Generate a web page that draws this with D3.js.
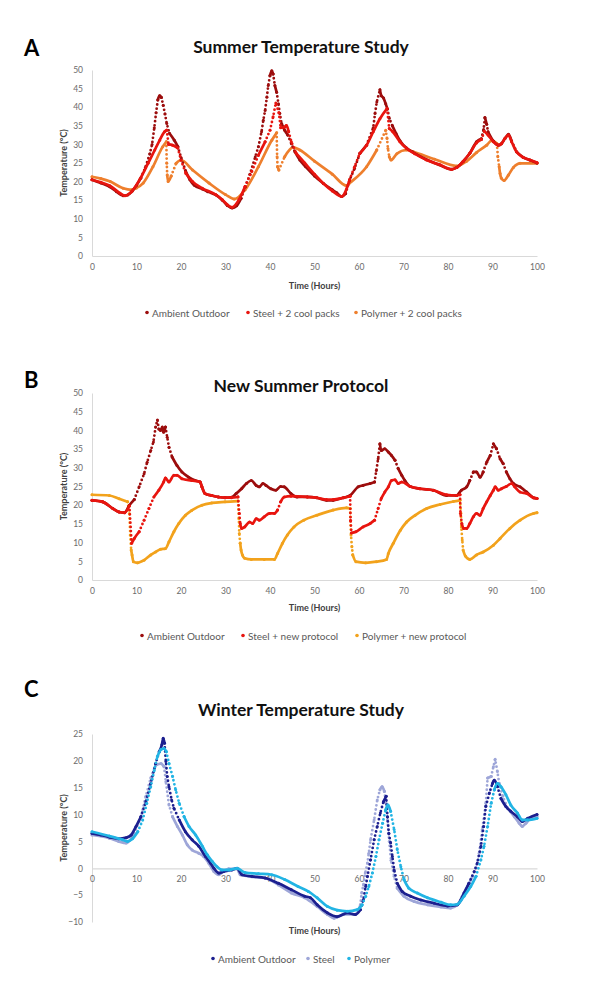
<!DOCTYPE html>
<html>
<head>
<meta charset="utf-8">
<script src="https://cdn.jsdelivr.net/npm/d3@7/dist/d3.min.js"></script>
<style>
  body { margin: 0; background: #fff; }
  text { font-family: Lato, "Open Sans", sans-serif; }
</style>
</head>
<body>
<svg id="chart" width="600" height="1001"></svg>
<script>
// ---- data: [hour, temperature] ----
const hourTicks = [0, 10, 20, 30, 40, 50, 60, 70, 80, 90, 100]
const summerTicks = [0, 5, 10, 15, 20, 25, 30, 35, 40, 45, 50]
const winterTicks = [-10, -5, 0, 5, 10, 15, 20, 25]

// A - summer study
const summerAmbient = [[0,20.5],[2,19.6],[4,18.6],[5.5,17.3],[7,16.2],[8,16.4],[9,17.4],[10,19],[11,21],[12,23.8],[13,27.5],[13.5,30],[14,34.5],[14.4,38.5],[14.8,42],[15.2,43.1],[15.6,42.6],[16,40.5],[16.4,38.2],[16.8,35.6],[17.4,33],[18.5,31.1],[19.3,29.4],[20,26.5],[21,23],[22,20.5],[23,19],[24.8,18],[26,17.3],[28,16.3],[29.3,15],[30.4,13.6],[31.5,12.9],[32.5,13.5],[33.5,15.5],[34.4,18.5],[35.5,22],[36.7,26.7],[37.4,29.4],[38.1,33.4],[38.5,36.5],[38.9,39.1],[39.3,42.7],[39.6,45.8],[40,48.5],[40.4,49.8],[40.7,48.9],[41.1,45.8],[41.5,44],[41.9,40.9],[42.2,38.3],[42.6,35.6],[43.3,33.8],[44,32.5],[44.8,30.2],[45.6,28],[46.7,25.8],[48,24],[50,21.5],[52,19.5],[54,17.8],[55,17],[56.1,16],[57,16.8],[57.9,20.5],[59,23.5],[60.2,27.6],[61.7,29.8],[63.2,34.5],[63.6,38.3],[64,41.4],[64.7,44.7],[65,43.1],[65.5,42.5],[66,40.9],[66.4,39.5],[66.8,37],[67.5,35],[68.3,33],[69.2,31],[70.7,29],[72,28],[75,26],[78,24.5],[80.8,23.3],[82,23.8],[83.4,25.4],[84.9,27.6],[86.4,30.7],[87.5,31.5],[88,34],[88.3,37.2],[88.7,35.4],[89,33.4],[90.2,30.9],[91.3,29.8],[92,30.2],[92.8,31.6],[93.6,32.7],[94.3,30.9],[95.4,28],[96.9,26.5],[98.4,25.8],[100,25]]
const summerSteel = [[0,20.5],[2,19.8],[4,18.9],[6.3,16.9],[7.4,16.2],[8.9,17.3],[10.7,20.5],[12.6,24.9],[14.1,28.5],[15.2,31.1],[16.3,33.4],[16.8,33.8],[17.2,30],[18.1,29.8],[19.3,29],[20,25.8],[21.1,22.2],[22.6,20],[24.8,18.2],[27.8,16.5],[29.3,15.1],[30.4,13.8],[31.5,13.1],[33,15.1],[34.4,18.7],[35.9,22.7],[37.4,27.1],[38.9,30.7],[40,33.8],[40.7,37.4],[41.3,41.1],[42,38.5],[42.4,34.5],[43.3,34.7],[43.7,35.1],[44.2,33.4],[44.8,30.7],[45.9,27.6],[47.8,25],[50,22],[52,19.5],[54,17.5],[56.1,16],[57.9,20.5],[59,24],[60.2,27.6],[61.7,29.8],[63.2,33.4],[64.7,36.9],[66.3,39.6],[66.8,34.3],[67.6,33.4],[69.2,30.7],[70.7,28.9],[72.5,27.5],[75.2,25.8],[78.2,24.5],[80.8,23.3],[82,23.8],[83.4,25.4],[84.9,27.6],[86.4,30.4],[87.5,31.3],[88.2,33.5],[89,32.5],[90.2,30.7],[91.3,29.8],[92,30.2],[92.8,31.6],[93.6,32.5],[94.3,30.7],[95.4,28],[96.9,26.5],[98.4,25.8],[100,25.1]]
const summerPolymer = [[0,21.3],[2,20.8],[4.1,20],[7,18.2],[8.9,17.8],[10,18.3],[11.5,19.6],[13.7,24],[15.9,29.4],[16.7,30.7],[16.8,24.9],[16.9,21.8],[17.1,20],[17.8,21.5],[18.9,24.9],[20,25.8],[22.6,23.1],[26.3,19.6],[30,16.5],[32,15.3],[34.4,17.8],[37.4,24],[40.4,31.1],[41.5,33.1],[41.6,26.7],[41.7,24],[42,23.1],[43.3,26.7],[45.2,29.2],[46.7,28.5],[50,25.5],[54,22],[57.2,18.9],[57.9,19.6],[61.7,24],[64,28.5],[66,33.8],[66.3,31.6],[66.5,28.9],[66.8,26.7],[67.2,25.8],[68.5,27.5],[70.7,28.5],[72.2,28],[77,26],[82,24.2],[84.1,25.4],[86.4,27.8],[88.7,29.8],[89.8,31],[91,30.2],[91.2,26.7],[91.5,24],[91.7,22.2],[92,20.9],[92.6,20.3],[93.6,21.8],[94.7,23.8],[96.2,24.9],[100,24.9]]

// B - new summer protocol
const protocolAmbient = [[0,21.3],[2.4,20.9],[4.7,19.1],[6.1,18.2],[7.3,18],[8.4,20],[9.5,21.5],[10.6,24.9],[11.7,28.4],[12.4,31.5],[13.2,34.6],[13.8,36.9],[14.3,40.9],[14.7,42.8],[15,40.4],[15.4,40],[15.8,40.9],[16.1,39.5],[16.5,40.9],[16.9,38.2],[17.3,35.5],[18,32.9],[19.1,30.6],[20.2,28.9],[21.7,27.5],[23.2,26.6],[24.3,26.2],[24.7,24.9],[25.4,23.1],[26.9,22.6],[28.4,22.2],[29.9,22],[31.3,22.1],[32.4,23.1],[33.6,24.4],[34.7,25.8],[35.8,26.6],[36.9,25.3],[37.6,24.9],[38.4,25.8],[39.1,25.3],[40.2,24.4],[41.3,24],[42.4,25],[43.2,24.9],[44.7,23.1],[46.1,22.2],[48.4,22.2],[50.5,22],[52.7,21.3],[54.2,21.3],[56.5,22],[58,22.6],[59.8,24.9],[60.9,25.3],[62.5,25.8],[63.5,26.2],[63.9,29.3],[64.3,32.4],[64.7,36.4],[65,34.6],[65.8,35.1],[66.6,34.2],[67.3,33.3],[68.1,32],[68.8,29.8],[69.6,28],[70.3,26.6],[71.5,25],[73.7,24.4],[76.7,24],[79.7,22.6],[81.9,22.6],[83,24],[84.2,24.9],[84.9,26.6],[85.7,28.9],[86.4,28.9],[87.2,27.5],[87.9,28.9],[88.7,31.5],[89.5,33.3],[90.2,36.4],[90.9,35.1],[91.7,32.4],[92.4,31.1],[93.1,28.9],[93.9,27.1],[94.7,25.8],[96.2,24.9],[97.7,23.5],[99.2,22],[100,21.8]]
const protocolSteel = [[0,21.3],[2.4,20.9],[4.7,19.1],[6.1,18.2],[7.3,18],[8.4,19.8],[8.9,9.8],[9.5,11.1],[10.6,12.9],[11.7,16],[12.8,19.1],[13.9,22.2],[15,24],[16.1,26.2],[16.5,27.3],[17.3,26.2],[18.4,28],[19.1,28],[20.2,27.1],[22.4,26.6],[24.3,26.2],[24.7,24.9],[25.4,23.1],[26.9,22.6],[28.4,22.2],[29.9,22],[31.3,22],[32.8,22.2],[33.1,17.8],[33.3,15.1],[33.6,13.8],[34.3,14.2],[35.4,15.5],[36.1,15.1],[36.9,16.4],[37.6,16],[38.7,16.9],[39.9,17.8],[41,17.8],[41.7,18.7],[42.4,20.9],[43.2,22.2],[44.7,22.4],[48.4,22.2],[50.5,22],[52.7,21.5],[54.2,21.5],[56.5,22],[58,22.4],[58.1,16],[58.3,12.6],[59.3,12.9],[60.9,14.2],[62.5,15.1],[63.5,16],[64.3,19.1],[65,21.8],[65.8,23.5],[66.6,24.9],[67.3,26.6],[68.1,26.8],[68.8,25.8],[69.6,26.2],[71.5,25],[73.7,24.4],[76.7,24],[79.7,22.8],[81.9,22.6],[82.7,22.8],[82.8,17.8],[83.1,15.1],[83.5,13.8],[84.2,13.8],[84.9,15.1],[85.7,16.9],[86.4,17.8],[87.2,17.3],[87.9,19.1],[88.7,20.9],[89.5,22.6],[90.2,24],[90.6,24.9],[91.3,24],[92,24.4],[93.1,25],[94.3,25.8],[95,24.9],[96.2,23.5],[97.7,23.1],[99.2,22],[100,21.8]]
const protocolPolymer = [[0,22.8],[3.9,22.6],[6.1,21.7],[8,20.9],[8.4,17.8],[8.6,12],[8.8,8],[9,6.7],[9.3,4.9],[10.2,4.6],[11.7,5.3],[13.2,6.7],[14.3,7.5],[15.4,8.2],[16.5,8.4],[17.3,10.2],[18.4,12.9],[19.5,15.1],[21,17.3],[22.4,18.6],[24.7,20],[26.9,20.6],[29.9,20.9],[32.8,21.1],[33,16.4],[33.1,12.4],[33.3,9.8],[33.5,8],[33.8,6.7],[34.3,5.8],[35.8,5.5],[38.7,5.5],[41,5.5],[41.7,7.1],[42.8,9.8],[43.9,12],[45.4,14.2],[47.6,16],[50.5,17.3],[54.2,18.7],[57.2,19.3],[58,19.1],[58.2,12],[58.4,8.9],[58.6,6.7],[59.3,4.9],[61.5,4.6],[63.9,4.9],[66.2,5.5],[66.6,7.1],[67.7,9.8],[69.3,13.3],[70.7,15.5],[72.6,17.3],[75.2,19.1],[78.2,20.2],[81.2,21],[82.7,21.3],[82.9,17.8],[83,14.2],[83.2,10.7],[83.4,8],[83.9,6.4],[84.9,5.5],[86.4,6.7],[87.9,7.5],[90.2,9.3],[91.7,11.1],[93.9,13.8],[96.2,16],[99.2,17.8],[100,18]]

// C - winter study
const winterAmbient = [[0,6.5],[2,6.2],[4,5.8],[6,5.5],[7.7,5.7],[8.8,6.2],[9.9,7.8],[11,9.6],[12.1,12.4],[13.2,15.8],[14.3,19.5],[15.1,21.7],[15.7,23],[16,24.2],[16.3,23.3],[16.6,19.9],[16.9,17.1],[17.3,15.2],[17.9,12.7],[18.4,11.2],[19.6,9],[21,6.8],[22.5,5.3],[24,4.1],[25.5,2.2],[26.6,1],[27.4,0],[28.5,-0.9],[29.6,-0.6],[31.4,-0.3],[32.6,0],[33.7,-1.2],[35.9,-1.5],[38.9,-1.8],[41.9,-2.8],[44.8,-4],[47.8,-5.2],[49.1,-5.5],[50.6,-6.8],[52.9,-8.3],[55.1,-9],[57.4,-8.3],[59.2,-8.6],[60.3,-7.7],[61,-5.8],[61.5,-3.4],[61.9,-1.5],[62.6,1.6],[63.4,5.3],[64.1,7.8],[64.8,10.3],[65.5,12.4],[66.1,13.4],[66.4,9.6],[66.7,6.5],[67.1,4.7],[67.5,2.2],[67.9,-0.3],[68.6,-2.8],[69.7,-4.3],[71.6,-5.2],[73.9,-5.9],[76.9,-6.5],[79.9,-7],[82.1,-6.8],[82.9,-5.9],[83.6,-4.6],[84.7,-2.8],[85.9,-0.6],[86.6,1],[87.4,4.1],[88,7.8],[88.5,11.5],[89.3,14],[90,15.8],[90.4,16.4],[91.1,15.2],[91.9,13],[93,11.5],[94.1,10.6],[95.6,9.6],[96.7,8.7],[97.9,9.3],[100,10]]
const winterSteel = [[0,6.2],[3.9,5.6],[6,5],[7.7,4.7],[9.5,6.5],[11,9.6],[12.1,13.4],[13.2,16.8],[14.3,19.2],[15.5,19.5],[16.2,18.9],[16.6,16.1],[17.3,11.8],[18.1,9.6],[19.2,7.8],[20.3,6.2],[21.4,4.4],[22.5,3.4],[24,2.8],[25.1,2.2],[26.2,1],[27.4,-0.6],[28.5,-1.2],[29.2,-0.8],[30.7,-0.1],[32.6,-0.1],[33.3,-1.2],[35.2,-1.5],[38.9,-1.8],[41.9,-3.1],[44.8,-4.6],[47.8,-5.5],[50.6,-7.1],[52.9,-8.6],[54.4,-9.3],[56.6,-8.6],[58.9,-8.6],[59.9,-8],[60.3,-6.8],[60.6,-4.6],[61,-3.1],[61.4,-0.9],[61.9,1],[62.2,2.8],[62.6,5.3],[63.4,9],[64.1,12.7],[64.7,14.6],[65.2,15.2],[65.7,14.3],[66.1,12.1],[66.4,9],[66.8,5],[67.2,1.5],[67.9,-1.5],[68.6,-3.7],[70.1,-5.2],[72.4,-6.2],[75.4,-6.8],[78.4,-7.2],[80.6,-7.4],[82.1,-6.8],[83.2,-5.2],[84.4,-3.4],[85.5,-1.5],[86.3,0.1],[87,2.8],[87.7,7.2],[88.5,12.1],[88.9,16.8],[89.7,17.1],[90.2,18.9],[90.6,20.3],[91.1,18],[91.5,15.8],[92.3,13.4],[93.4,11.2],[94.9,9.6],[96,8.4],[96.7,7.8],[97.5,8.4],[98.6,9.3],[100,9.6]]
const winterPolymer = [[0,6.8],[3.9,6],[6.9,5.3],[8,5],[9.1,5.5],[10.3,6.8],[11.4,9],[12.3,12.1],[13.2,15.2],[14,18.3],[14.7,20.8],[15.5,22.1],[16.2,22.3],[16.7,21.7],[17.3,19.5],[18.1,17.1],[18.8,14.6],[19.6,12.1],[20.7,9.6],[21.8,7.8],[23.3,6.2],[24.8,4.1],[25.9,2.5],[27,1.3],[28.1,0.3],[29.2,-0.3],[30.7,-0.3],[32.6,0],[34.4,-0.8],[37.4,-1],[40.4,-1.2],[43.3,-2.1],[46.3,-3.4],[48.6,-4.3],[50.6,-5.5],[52.9,-7.1],[55.1,-7.8],[57.4,-8],[59.6,-7.7],[60.7,-6.8],[61.5,-5.2],[62.2,-3.4],[63,-0.9],[63.8,2.2],[64.5,5.3],[65.3,8.4],[66,10.9],[66.5,11.8],[67.1,10.6],[67.9,7.2],[68.6,3.5],[69.4,0.3],[70.1,-2.1],[71.2,-3.7],[73.1,-4.6],[75.4,-5.5],[78.4,-6.3],[80.6,-6.8],[82.1,-6.7],[83.6,-5.2],[85.1,-3.4],[86.3,-1.5],[87.4,1.6],[88.1,4.1],[88.9,7.8],[89.7,12.1],[90.4,14.6],[91.1,15.8],[91.9,15.2],[93,13.7],[94.1,11.8],[95.6,10.3],[96.7,9],[97.9,9],[100,9.3]]

const summerNames = ['Ambient Outdoor', 'Steel + 2 cool packs', 'Polymer + 2 cool packs']
const protocolNames = ['Ambient Outdoor', 'Steel + new protocol', 'Polymer + new protocol']
const winterNames = ['Ambient Outdoor', 'Steel', 'Polymer']

// ---- layout of the three panels ----
const panels = [
  { letter: 'A', letterY: 56, title: 'Summer Temperature Study', titleY: 53,
    top: 70, bottom: 256, yDomain: [0, 50], yTicks: summerTicks, axisAt: 0,
    xLabelY: 270, xTitleY: 289, legendY: 313, legendX: [147, 248, 356],
    names: summerNames, series: [summerAmbient, summerSteel, summerPolymer],
    colors: ['#9c0d0d', '#e8150f', '#ee7f2d'], order: [2, 0, 1] },
  { letter: 'B', letterY: 388, title: 'New Summer Protocol', titleY: 392,
    top: 393, bottom: 580, yDomain: [0, 50], yTicks: summerTicks, axisAt: 0,
    xLabelY: 594, xTitleY: 611, legendY: 636, legendX: [142, 243, 357],
    names: protocolNames, series: [protocolAmbient, protocolSteel, protocolPolymer],
    colors: ['#9c0d0d', '#e8150f', '#f2a21c'], order: [2, 0, 1] },
  { letter: 'C', letterY: 697, title: 'Winter Temperature Study', titleY: 716,
    top: 734, bottom: 922, yDomain: [-10, 25], yTicks: winterTicks, axisAt: 0,
    xLabelY: 882, xTitleY: 934, legendY: 959, legendX: [213, 308, 349],
    names: winterNames, series: [winterAmbient, winterSteel, winterPolymer],
    colors: ['#1c1f8f', '#9ea6d8', '#22b4e4'], order: [1, 0, 2] }
]

const svg = d3.select('#chart')
svg.append('rect').attr('width', 600).attr('height', 1001).attr('fill', '#fff')

const x = d3.scaleLinear().domain([0, 100]).range([92, 537])

// split a series into flat pieces (drawn solid) and steep pieces (drawn as loose dots)
function pieces(data, y) {
  const out = []
  for (let i = 1; i < data.length; i++) {
    const dx = x(data[i][0]) - x(data[i - 1][0])
    const dy = Math.abs(y(data[i][1]) - y(data[i - 1][1]))
    const steep = dy > 7 && dy > 2.2 * dx
    const last = out[out.length - 1]
    if (!last || last.steep !== steep) out.push({ steep, pts: [data[i - 1], data[i]] })
    else last.pts.push(data[i])
  }
  return out
}

panels.forEach(p => {
  const y = d3.scaleLinear().domain(p.yDomain).range([p.bottom, p.top])
  const g = svg.append('g')

  g.append('text').text(p.letter)
    .attr('x', 24).attr('y', p.letterY)
    .attr('font-size', 22).attr('font-weight', 700).attr('fill', '#000')

  g.append('text').text(p.title)
    .attr('x', 301).attr('y', p.titleY).attr('text-anchor', 'middle')
    .attr('font-size', 17.5).attr('font-weight', 700).attr('fill', '#111')

  // axes
  const yAxis = d3.axisLeft(y).tickValues(p.yTicks).tickSize(0).tickPadding(9)
  const yg = g.append('g').attr('transform', `translate(${x(0)},0)`).call(yAxis)
  yg.select('.domain').attr('stroke', '#d9d9d9')
  yg.selectAll('text').attr('fill', '#6b6b6b').attr('font-size', 8.5)
    .attr('font-family', 'Lato, sans-serif')

  const xAxis = d3.axisBottom(x).tickValues(hourTicks).tickSize(0).tickPadding(0)
  const xg = g.append('g').attr('transform', `translate(0,${y(p.axisAt)})`).call(xAxis)
  xg.select('.domain').attr('stroke', '#d9d9d9').attr('stroke-width', 1.2)
  xg.selectAll('text').attr('fill', '#6b6b6b').attr('font-size', 8.5)
    .attr('font-family', 'Lato, sans-serif')
    .attr('dy', null).attr('y', p.xLabelY - y(p.axisAt))

  g.append('text').text('Time (Hours)')
    .attr('x', (x(0) + x(100)) / 2).attr('y', p.xTitleY).attr('text-anchor', 'middle')
    .attr('font-size', 9).attr('font-weight', 700).attr('fill', '#404040')

  g.append('text').text('Temperature (°C)')
    .attr('transform', `translate(67,${(p.top + p.bottom) / 2}) rotate(-90)`)
    .attr('text-anchor', 'middle')
    .attr('font-size', 9).attr('font-weight', 700).attr('fill', '#404040')

  // series
  const smooth = d3.line().x(d => x(d[0])).y(d => y(d[1])).curve(d3.curveMonotoneX)
  const straight = d3.line().x(d => x(d[0])).y(d => y(d[1]))
  p.order.forEach(i => {
    const s = g.append('g')
    s.selectAll('path').data(pieces(p.series[i], y))
      .enter().append('path')
      .attr('d', d => d.steep ? straight(d.pts) : smooth(d.pts))
      .attr('fill', 'none')
      .attr('stroke', p.colors[i])
      .attr('stroke-width', d => d.steep ? 2.8 : 2.7)
      .attr('stroke-dasharray', d => d.steep ? '0 4.2' : null)
      .attr('stroke-linecap', 'round')
      .attr('stroke-linejoin', 'round')
    s.selectAll('circle').data(p.series[i]).enter().append('circle')
      .attr('cx', d => x(d[0])).attr('cy', d => y(d[1]))
      .attr('r', 1.5).attr('fill', p.colors[i])
  })

  // legend
  p.names.forEach((name, i) => {
    g.append('circle').attr('cx', p.legendX[i]).attr('cy', p.legendY - 0.5)
      .attr('r', 1.8).attr('fill', p.colors[i])
    g.append('text').text(name)
      .attr('x', p.legendX[i] + 5).attr('y', p.legendY + 3.5)
      .attr('font-size', 10).attr('fill', '#595959')
  })
})
</script>
</body>
</html>
